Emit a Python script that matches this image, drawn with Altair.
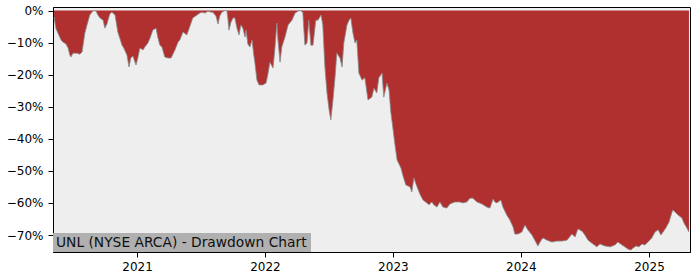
import altair as alt
import pandas as pd

dates = [
    "2020-05-09", "2020-05-14", "2020-05-20", "2020-05-29", "2020-06-03", "2020-06-12", "2020-06-18",
    "2020-06-23", "2020-06-26", "2020-07-02", "2020-07-13", "2020-07-22", "2020-07-28", "2020-07-30",
    "2020-08-05", "2020-08-11", "2020-08-19", "2020-08-25", "2020-08-31", "2020-09-06", "2020-09-11",
    "2020-09-17", "2020-09-26", "2020-10-01", "2020-10-07", "2020-10-15", "2020-10-21", "2020-10-30",
    "2020-11-07", "2020-11-19", "2020-11-24", "2020-12-03", "2020-12-09", "2020-12-14", "2020-12-20",
    "2020-12-29", "2021-01-03", "2021-01-09", "2021-01-18", "2021-01-23", "2021-02-01", "2021-02-07",
    "2021-02-15", "2021-02-24", "2021-03-01", "2021-03-07", "2021-03-13", "2021-03-21", "2021-03-30",
    "2021-04-08", "2021-04-19", "2021-04-28", "2021-05-03", "2021-05-12", "2021-05-23", "2021-06-01",
    "2021-06-09", "2021-06-21", "2021-06-29", "2021-07-05", "2021-07-14", "2021-07-22", "2021-07-31",
    "2021-08-05", "2021-08-14", "2021-08-20", "2021-08-25", "2021-08-31", "2021-09-09", "2021-09-14",
    "2021-09-17", "2021-09-20", "2021-09-26", "2021-10-02", "2021-10-07", "2021-10-13", "2021-10-19",
    "2021-10-24", "2021-10-30", "2021-11-05", "2021-11-08", "2021-11-13", "2021-11-19", "2021-11-25",
    "2021-11-30", "2021-12-03", "2021-12-09", "2021-12-15", "2021-12-26", "2022-01-04", "2022-01-09",
    "2022-01-15", "2022-01-24", "2022-01-29", "2022-02-04", "2022-02-07", "2022-02-13", "2022-02-18",
    "2022-02-27", "2022-03-08", "2022-03-19", "2022-03-28", "2022-04-05", "2022-04-11", "2022-04-19",
    "2022-04-22", "2022-04-25", "2022-05-01", "2022-05-06", "2022-05-12", "2022-05-18", "2022-05-26",
    "2022-06-01", "2022-06-10", "2022-06-15", "2022-06-21", "2022-06-27", "2022-07-03", "2022-07-08",
    "2022-07-14", "2022-07-20", "2022-07-25", "2022-08-03", "2022-08-09", "2022-08-14", "2022-08-23",
    "2022-08-29", "2022-09-03", "2022-09-09", "2022-09-15", "2022-09-20", "2022-09-26", "2022-10-05",
    "2022-10-13", "2022-10-22", "2022-11-02", "2022-11-08", "2022-11-16", "2022-11-22", "2022-12-01",
    "2022-12-06", "2022-12-15", "2022-12-21", "2022-12-26", "2023-01-01", "2023-01-07", "2023-01-13",
    "2023-01-24", "2023-01-30", "2023-02-07", "2023-02-19", "2023-02-24", "2023-03-02", "2023-03-11",
    "2023-03-19", "2023-03-28", "2023-04-08", "2023-04-14", "2023-04-22", "2023-04-28", "2023-05-07",
    "2023-05-15", "2023-05-24", "2023-06-04", "2023-06-13", "2023-06-27", "2023-07-11", "2023-07-20",
    "2023-07-31", "2023-08-09", "2023-08-17", "2023-08-29", "2023-09-12", "2023-09-26", "2023-10-05",
    "2023-10-14", "2023-10-19", "2023-10-25", "2023-11-05", "2023-11-11", "2023-11-22", "2023-12-01",
    "2023-12-10", "2023-12-15", "2023-12-24", "2024-01-04", "2024-01-13", "2024-01-21", "2024-02-02",
    "2024-02-10", "2024-02-19", "2024-02-25", "2024-03-04", "2024-03-16", "2024-03-30", "2024-04-13",
    "2024-04-28", "2024-05-12", "2024-05-26", "2024-06-04", "2024-06-12", "2024-06-24", "2024-07-02",
    "2024-07-11", "2024-07-25", "2024-08-05", "2024-08-14", "2024-08-28", "2024-09-12", "2024-09-26",
    "2024-10-04", "2024-10-16", "2024-10-24", "2024-11-02", "2024-11-10", "2024-11-16", "2024-11-25",
    "2024-12-03", "2024-12-12", "2024-12-20", "2024-12-29", "2025-01-09", "2025-01-18", "2025-01-27",
    "2025-02-04", "2025-02-10", "2025-02-18", "2025-02-27", "2025-03-07", "2025-03-10", "2025-03-19",
    "2025-03-25", "2025-04-05", "2025-04-11", "2025-04-19", "2025-04-25",
]

drawdown_pct = [
    -2.0, -5.5, -7.0, -9.2, -9.8, -10.4, -11.7,
    -13.9, -14.5, -13.3, -13.3, -13.6, -12.9, -11.4,
    -7.0, -4.5, -1.4, -0.5, 0.0, -0.2, -1.4,
    -2.3, -3.0, -5.5, -4.2, -1.1, -0.5, -1.4,
    -6.7, -10.8, -11.7, -13.9, -17.6, -14.8, -14.2,
    -17.0, -14.8, -11.7, -12.3, -11.4, -10.1, -8.6,
    -6.1, -5.5, -8.3, -10.8, -11.4, -14.5, -14.8,
    -14.8, -12.3, -9.8, -9.2, -6.7, -7.6, -4.8,
    -2.3, -1.4, -0.8, -0.5, -0.8, -0.2, -0.5,
    -0.5, -1.7, -4.2, -1.7, -0.5, 0.0, 0.0,
    -2.3, -6.1, -3.6, -2.3, -2.3, -5.5, -7.6,
    -4.5, -5.5, -8.3, -6.1, -10.4, -11.4, -9.2,
    -13.9, -16.1, -21.7, -23.2, -23.2, -22.6, -20.1,
    -16.1, -17.9, -12.3, -3.9, -9.2, -16.1, -11.4,
    -8.3, -4.5, -3.0, -0.8, -0.2, 0.0, -0.5,
    -6.1, -10.8, -10.1, -3.0, -10.8, -10.8, -3.0,
    -3.0, -1.4, -4.5, -17.6, -25.7, -31.0, -34.1,
    -27.9, -20.7, -13.3, -14.8, -17.6, -10.1, -4.5,
    -3.0, -2.3, -7.0, -10.1, -9.2, -19.5, -21.7,
    -21.0, -27.9, -27.0, -24.2, -25.7, -21.0, -19.5,
    -27.0, -22.6, -24.8, -31.6, -36.6, -41.9, -46.6,
    -49.1, -51.6, -54.4, -55.0, -56.6, -52.2, -55.0,
    -57.2, -59.1, -60.0, -60.6, -59.7, -60.6, -61.3,
    -59.7, -61.3, -61.6, -60.3, -59.7, -59.7, -60.0,
    -59.7, -58.5, -58.5, -59.7, -60.3, -61.3, -61.6,
    -58.8, -59.7, -60.0, -59.1, -61.3, -63.8, -65.3,
    -67.5, -69.7, -69.7, -69.1, -66.9, -68.4, -70.0,
    -71.6, -73.4, -72.2, -70.9, -71.6, -72.2, -71.9,
    -71.9, -71.6, -69.7, -70.6, -68.1, -68.8, -70.0,
    -71.6, -72.8, -73.7, -72.8, -73.4, -73.7, -73.1,
    -72.2, -73.1, -73.7, -74.4, -74.7, -74.1, -73.4,
    -73.7, -72.8, -73.1, -72.2, -70.9, -69.1, -68.4,
    -70.0, -69.1, -67.8, -66.0, -63.1, -62.2, -63.1,
    -63.8, -64.7, -66.3, -67.8, -69.1,
]

y_ticks = [0, -10, -20, -30, -40, -50, -60, -70]
x_tick_years = [2021, 2022, 2023, 2024, 2025]
x_domain = ["2020-05-06", "2025-04-28"]
y_domain = [-75.3, 1.1]
title_text = "UNL (NYSE ARCA) - Drawdown Chart"

df = pd.DataFrame({"date": dates, "dd": drawdown_pct})

FONT = "DejaVu Sans"
W, H = 637, 245

x_enc = alt.X(
    "date:T",
    scale=alt.Scale(type="utc", domain=x_domain, nice=False),
    axis=alt.Axis(
        values=[alt.DateTime(year=y, month=1, date=1, utc=True) for y in x_tick_years],
        labelExpr="utcFormat(datum.value, '%Y')",
        title=None, grid=False, tickSize=5, labelPadding=4,
        domainColor="black", tickColor="black", labelColor="black",
        labelFont=FONT, labelFontSize=12, labelFlush=False, labelOverlap=False,
    ),
)
y_enc = alt.Y(
    "dd:Q",
    scale=alt.Scale(domain=y_domain, nice=False, zero=False),
    axis=alt.Axis(
        values=y_ticks,
        labelExpr="datum.value == 0 ? '0%' : '\u2212' + abs(datum.value) + '%'",
        title=None, grid=False, tickSize=5, labelPadding=5,
        domainColor="black", tickColor="black", labelColor="black",
        labelFont=FONT, labelFontSize=12, labelOverlap=False, labelFlush=False,
        labelBaseline="middle",
    ),
)

base = alt.Chart(df).encode(x=x_enc, y=y_enc)
area = base.mark_area(color="#b03030", interpolate="linear").encode(y2=alt.value(0))
edge = base.mark_line(color="#8a8a8a", strokeWidth=0.8)

label_box = alt.Chart(pd.DataFrame({"t": [title_text]})).mark_rect(color="#b0b0b0").encode(
    x=alt.value(0), x2=alt.value(258), y=alt.value(226), y2=alt.value(245)
)
label = alt.Chart(pd.DataFrame({"t": [title_text]})).mark_text(
    align="left", baseline="alphabetic", font=FONT, fontSize=13.8, color="#111111"
).encode(x=alt.value(3), y=alt.value(240), text="t:N")

chart = (
    alt.layer(area, edge, label_box, label)
    .properties(
        width=W, height=H,
        autosize=alt.AutoSizeParams(type="none"),
        padding={"left": 53, "top": 7, "right": 10, "bottom": 28},
        background="white",
    )
    .configure_view(fill="#eeeeee", stroke="black", strokeWidth=1)
)

chart.save("out.html", embed_options={"renderer": "svg", "actions": False})
